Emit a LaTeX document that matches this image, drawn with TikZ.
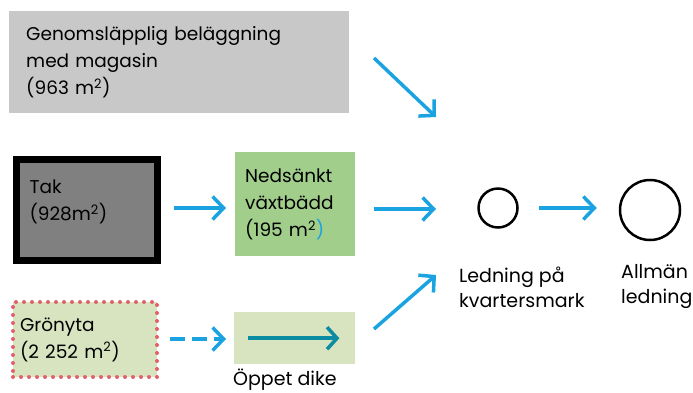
\documentclass[tikz,border=0pt]{standalone}
\usepackage{fontspec}
\setmainfont{Poppins}
\usetikzlibrary{arrows.meta}
\definecolor{flowblue}{HTML}{1AA3E0}
\definecolor{diketeal}{HTML}{0A8CA2}
\definecolor{pavegray}{HTML}{C8C8C8}
\definecolor{roofgray}{HTML}{808080}
\definecolor{bedgreen}{HTML}{A1CF8B}
\definecolor{lawngreen}{HTML}{D8E3C0}
\definecolor{dotred}{HTML}{E2606A}
\tikzset{
  flow/.style={draw=flowblue, line width=3.5pt, -{Straight Barb[length=11pt,width=23pt,line width=3.5pt]}},
  area/.style={rectangle, anchor=north west, align=left, inner ysep=0pt, font=\fontsize{18.5}{27}\selectfont},
  pipe/.style={circle, draw=black, line width=2.5pt, inner sep=0pt},
  caption/.style={anchor=west, align=left, inner sep=0pt, font=\fontsize{19}{25}\selectfont}
}
\begin{document}
\begin{tikzpicture}[x=1pt,y=-1pt]
  \useasboundingbox (0,0) rectangle (693,392);
  %Surfaces
  \node at (9,11) [area, fill=pavegray, minimum width=340, minimum height=102, text width=306, inner xsep=17, name=pave] {Genomsläpplig beläggning\\med magasin\\(963 m\textsuperscript{2})};
  \node at (12.5,155.5) [area, fill=roofgray, draw=black, line width=7pt, minimum width=141, minimum height=101, text width=114, inner xsep=13.5, text depth=46pt, name=roof] {Tak\\(928m\textsuperscript{2})};
  \node at (235,152) [area, fill=bedgreen, minimum width=120, minimum height=104, text width=100, inner xsep=10, name=bed] {Nedsänkt\\växtbädd\\(195 m\textsuperscript{2}\textcolor{flowblue}{)}};
  \node at (11,300) [area, fill=lawngreen, draw=dotred, line width=4pt, dash pattern=on 0pt off 8pt, line cap=round, minimum width=144, minimum height=75, text width=130, inner xsep=7, name=lawn] {Grönyta\\(2 252 m\textsuperscript{2})};
  \node at (234,312) [area, fill=lawngreen, minimum width=121, minimum height=52, name=dike] {};
  \node at (233,380) [caption, name=dikelabel] {Öppet dike};
  % Pipes
  \node at (498,208) [pipe, minimum size=39, name=yard] {};
  \node at (650,210) [pipe, minimum size=60, name=main] {};
  \node at (459,287) [caption, name=yardlabel] {Ledning på\\kvartersmark};
  \node at (621,287) [caption, name=mainlabel] {Allmän\\ledning};
  % Flows
  \coordinate (a1) at (374,58);  \coordinate (a2) at (436,117);
  \coordinate (b1) at (374,209); \coordinate (b2) at (436,209);
  \coordinate (c1) at (374,329); \coordinate (c2) at (436,275);
  \draw [flow] (a1) -- (a2);
  \draw [flow] (b1) -- (b2);
  \draw [flow] (c1) -- (c2);
  \draw [flow, shorten <=13pt, shorten >=9pt] (roof.east |- 0,208) -- (bed.west |- 0,208);
  \draw [flow, dash pattern=on 15pt off 7pt, shorten <=11pt, shorten >=8pt] (lawn.east |- 0,339) -- (dike.west |- 0,339);
  \draw [draw=diketeal, line width=3.5pt, -{Straight Barb[length=10pt,width=22pt,line width=3.5pt]}] ([xshift=14pt]dike.west) -- ([xshift=-16pt]dike.east);
  \draw [flow, shorten <=20pt, shorten >=22pt] (yard) -- (main.west |- yard);
\end{tikzpicture}
\end{document}
